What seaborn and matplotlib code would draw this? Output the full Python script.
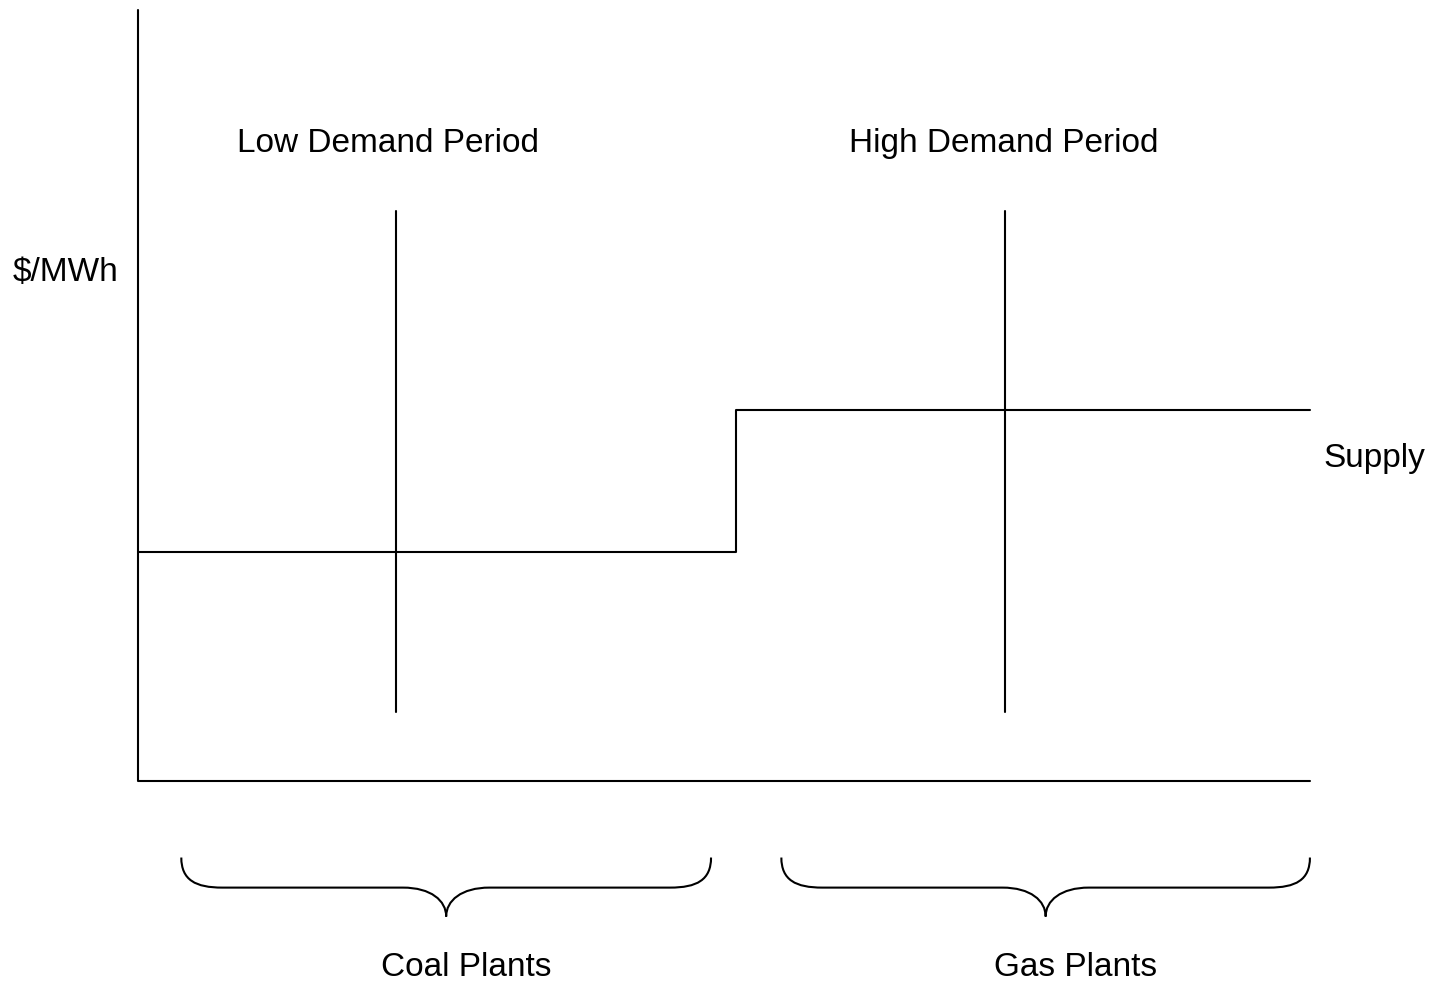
import numpy as np
import pandas as pd
import matplotlib
matplotlib.use('Agg')
import matplotlib.pyplot as plt
from matplotlib.path import Path
from matplotlib.patches import PathPatch
import seaborn as sns

# ---------------- data (quantity units 0-100, price units 0-100) ----------------
supply_q = [0, 51, 51, 100]
supply_p = [29.7, 29.7, 48.1, 48.1]

demand_names = ['Low Demand Period', 'High Demand Period']
demand_q = [22, 74]
demand_p_lo = [9, 9]
demand_p_hi = [74, 74]
demand_label_q = [21.3, 73.9]

plant_names = ['Coal Plants', 'Gas Plants']
plant_q0 = [3.7, 54.9]
plant_q1 = [48.9, 100]
plant_label_q = [28.05, 80.0]

axis_q = [0, 0, 100]
axis_p = [100, 0, 0]

sns.set_theme(style='white')
plt.rcParams['font.family'] = ['Liberation Sans', 'DejaVu Sans']
plt.rcParams['text.color'] = 'black'

fig = plt.figure(figsize=(14.29, 9.84), dpi=100)
ax = fig.add_axes([0, 0, 1, 1])
ax.set_xlim(-11.77, 110.16)
ax.set_ylim(-26.3, 101.3)
ax.axis('off')

LW = 1.5
FS = 24
line_kw = dict(color='black', linewidth=LW, estimator=None, sort=False, legend=False, ax=ax)

# axes drawn as plain lines
sns.lineplot(x=axis_q, y=axis_p, **line_kw)

# supply step
sns.lineplot(x=supply_q, y=supply_p, **line_kw)

# demand verticals + labels
for name, q, lo, hi, lq in zip(demand_names, demand_q, demand_p_lo, demand_p_hi, demand_label_q):
    sns.lineplot(x=[q, q], y=[lo, hi], **line_kw)
    ax.text(lq, 82.7, name, ha='center', va='center', fontsize=FS, color='black')

ax.text(-6.2, 65.9, '$/MWh', ha='center', va='center', fontsize=FS, color='black')
ax.text(105.5, 41.9, 'Supply', ha='center', va='center', fontsize=FS, color='black')


# curly braces below the quantity axis
def brace(x0, x1, y_top, h=3.9, tip=3.75, end_w=3.5, mid_w=3.7):
    xm = (x0 + x1) / 2
    y_mid = y_top - h
    y_tip = y_mid - tip
    verts = [
        (x0, y_top),
        (x0, y_top - 0.75 * h), (x0 + 0.35 * end_w, y_mid), (x0 + end_w, y_mid),
        (xm - mid_w, y_mid),
        (xm - 0.35 * mid_w, y_mid), (xm, y_mid - 0.45 * tip), (xm, y_tip),
        (xm, y_mid - 0.45 * tip), (xm + 0.35 * mid_w, y_mid), (xm + mid_w, y_mid),
        (x1 - end_w, y_mid),
        (x1 - 0.35 * end_w, y_mid), (x1, y_top - 0.75 * h), (x1, y_top),
    ]
    codes = [Path.MOVETO,
             Path.CURVE4, Path.CURVE4, Path.CURVE4,
             Path.LINETO,
             Path.CURVE4, Path.CURVE4, Path.CURVE4,
             Path.CURVE4, Path.CURVE4, Path.CURVE4,
             Path.LINETO,
             Path.CURVE4, Path.CURVE4, Path.CURVE4]
    ax.add_patch(PathPatch(Path(verts, codes), facecolor='none',
                           edgecolor='black', linewidth=LW))


for name, q0, q1, lq in zip(plant_names, plant_q0, plant_q1, plant_label_q):
    brace(q0, q1, -9.9)
    ax.text(lq, -25.2, name, ha='center', va='baseline', fontsize=FS, color='black')

fig.savefig('out.png', dpi=100)
plt.close(fig)
